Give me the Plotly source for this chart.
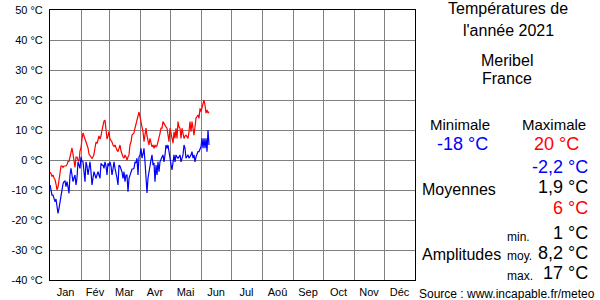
import plotly.graph_objects as go

# ---- data ----
tmax = [-4, -4.5, -5.5, -5, -6, -6.5, -8, -10, -9, -7,
        -5, -2, -2, -2.5, -2, -2, -2, -1.5, -0.5, -0.5,
        1, 3, 4, 2, -1, -2.5, 1, 1, 0, -0.5,
        3, 4, 7, 9, 8, 7, 6, 5, 4, 2,
        1.5, 1, 0.5, 1, 2, 4, 6, 5.5, 7, 8,
        7, 8, 10, 11.5, 13, 13.3, 10, 7, 8, 9.5,
        7, 6.5, 6, 5, 4.5, 5, 4, 3.3, 2.8, 4,
        5, 3, 1.5, 1, 0.6, 1.7, 1, 0, 1, 1.7,
        5, 6, 8.3, 8.9, 9, 10.6, 12, 13.3, 15, 16,
        14.4, 12.8, 11, 9.4, 6.1, 8, 10.6, 8, 6, 5,
        7.2, 6, 4.4, 5, 3.9, 5, 4.4, 4.8, 6, 7.2,
        8.9, 10.6, 10.6, 12.8, 12, 11.7, 11, 10.6, 8.3, 6.1,
        10.6, 9, 8.3, 5.6, 9.4, 7.2, 10.6, 7.2, 12.8, 11,
        10.6, 7.2, 10.6, 9, 7.2, 8, 8.3, 7.8, 7.2, 9.4,
        12.8, 9.4, 12.8, 10.6, 8.3, 11, 13.9, 14.5, 15, 13.9,
        17.2, 16.1, 17.2, 18.5, 20, 18.3, 15.6, 16.7, 15.6, 16.1]

tmin = [-8.3, -10, -11.7, -11.7, -12.8, -13.9, -13, -15.6, -17.8, -16.1,
        -14, -12.8, -9.4, -8, -7.2, -7, -8.9, -7.2, -9, -11.1,
        -5, -2.8, -5, -7.2, -6, -5, -8.3, -6, -0.6, -2,
        -2.8, 1.1, -0.5, -0.6, -3, -7.2, -0.6, -2, -5, -3,
        -0.6, -4, -8.3, -6, -3.9, -5, -6.1, -5, -3.9, -5,
        -6.1, -1.1, -1.7, -1.7, -2.8, -0.6, -2, -5, -1.1, -2,
        -0.6, -2, -5, -3, -0.6, -2.8, -4, -6, -8.3, -1.7,
        -2, -2.8, -4, -6.1, -3.9, -7.2, -5, -5, -10.6, -6.1,
        -5, -3.9, -3, -3, -2.8, -0.6, -1, 0.6, -5, 1,
        1.7, 3.9, 0.6, 2, 3.9, -0.6, -5, -11, -6, -3.9,
        -0.6, 0, 1.7, -1.7, -1, -7.2, -1.7, -5, -0.6, -3.9,
        -0.6, 0.6, 1, 1.7, -0.6, 1.7, 5, 3.9, 5, 2.8,
        0, -1.5, -3.3, -0.6, 1.7, -0.6, 1.7, 1, 0.6, 1,
        1.7, -0.6, 1, 1.7, 5, 3.9, 0.6, 1, 1.7, 0.6,
        1, 1.7, 2.8, 0.6, 1.7, -0.6, 1, 1.7, 2.8, 2.8,
        3.5, 4.4, 7.2, 3.9, 7.2, 3.9, 7.2, 2.8, 10, 5]

days = list(range(1, len(tmax) + 1))

months = ["Jan", "Fév", "Mar", "Avr", "Mai", "Jun", "Jul", "Aoû", "Sep", "Oct", "Nov", "Déc"]
month_start = [1, 32, 60, 91, 121, 152, 182, 213, 244, 274, 305, 335]
month_len = [31, 28, 31, 30, 31, 30, 31, 31, 30, 31, 30, 31]
month_mid = [s + l / 2 for s, l in zip(month_start, month_len)]

yticks = [50, 40, 30, 20, 10, 0, -10, -20, -30, -40]

title_lines = ["Températures de", "l'année 2021"]
place_lines = ["Meribel", "France"]
stat_min, stat_max = "-18 °C", "20 °C"
moy_vals = ["-2,2 °C", "1,9 °C", "6 °C"]
amp_labels = ["min.", "moy.", "max."]
amp_vals = ["1 °C", "8,2 °C", "17 °C"]
source = "Source : www.incapable.fr/meteo"

# ---- figure ----
FONT = "Liberation Sans, Arial, sans-serif"
W, H = 600, 300
L, R, T, B = 50, 185, 10, 20
PW, PH = W - L - R, H - T - B

def px(x):
    return (x - L) / PW

def py(y):
    return (H - B - y) / PH

fig = go.Figure()
fig.add_trace(go.Scatter(x=days, y=tmin, mode="lines",
                         line=dict(color="#0000ff", width=1.2), hoverinfo="skip"))
fig.add_trace(go.Scatter(x=days, y=tmax, mode="lines",
                         line=dict(color="#ff0000", width=1.2), hoverinfo="skip"))

fig.update_layout(
    width=W, height=H,
    margin=dict(l=L, r=R, t=T, b=B, pad=0, autoexpand=False),
    paper_bgcolor="white", plot_bgcolor="white",
    showlegend=False,
    font=dict(family=FONT, size=11, color="black"),
    xaxis=dict(range=[1, 366], tickmode="array", tickvals=month_mid, ticktext=months,
               showgrid=False, ticks="outside", ticklen=2, tickcolor="rgba(0,0,0,0)",
               zeroline=False, automargin=False,
               showline=True, linecolor="black", linewidth=1, mirror=True,
               tickfont=dict(size=11),
               minor=dict(tickmode="array", tickvals=month_start, showgrid=True,
                          gridcolor="#808080", gridwidth=1, ticks="")),
    yaxis=dict(range=[-40, 50], tickmode="array", tickvals=yticks,
               ticktext=[f"{v} °C" for v in yticks], automargin=False,
               showgrid=True, gridcolor="#808080", gridwidth=1, zeroline=False,
               showline=True, linecolor="black", linewidth=1, mirror=True,
               ticks="outside", ticklen=4, tickcolor="rgba(0,0,0,0)",
               tickfont=dict(size=11)),
)

ann = []
def add(text, x, y, size, color="black", xanchor="center"):
    ann.append(dict(text=text, x=px(x), y=py(y), xref="paper", yref="paper",
                    xanchor=xanchor, yanchor="middle", showarrow=False,
                    font=dict(family=FONT, size=size, color=color)))

add(title_lines[0], 508, 9, 16)
add(title_lines[1], 508, 31, 16)
add(place_lines[0], 507, 60, 16)
add(place_lines[1], 507, 78, 16)
add("Minimale", 460, 124, 15)
add("Maximale", 554, 124, 15)
add(stat_min, 463, 144, 18, "#0000ff")
add(stat_max, 556, 144, 18, "#ff0000")
add(moy_vals[0], 590, 167, 18, "#0000ff", "right")
add(moy_vals[1], 590, 187, 18, "black", "right")
add(moy_vals[2], 590, 208, 18, "#ff0000", "right")
add("Moyennes", 420, 189, 16, "black", "left")
add("Amplitudes", 420, 254, 16, "black", "left")
for i, yy in enumerate([237, 256, 276]):
    add(amp_labels[i], 505, yy, 12, "black", "left")
for i, yy in enumerate([233, 253, 273]):
    add(amp_vals[i], 590, yy, 18, "black", "right")
add(source, 597, 294, 12, "black", "right")
fig.update_layout(annotations=ann)

fig.write_html("out.html")
